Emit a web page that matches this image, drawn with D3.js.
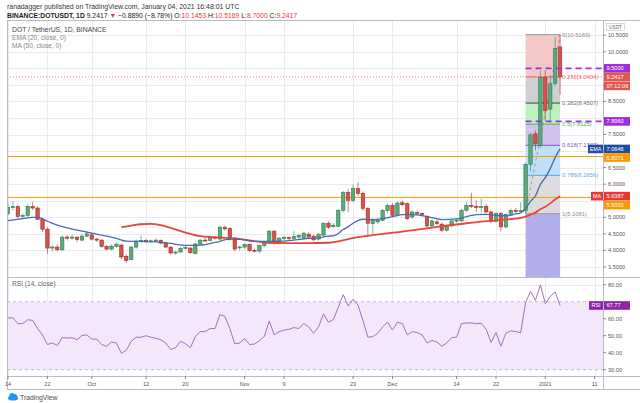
<!DOCTYPE html>
<html><head><meta charset="utf-8">
<script src="https://cdn.jsdelivr.net/npm/d3@7"></script>
<style>body{margin:0;background:#fff;} svg{display:block;font-family:"Liberation Sans",Arial,sans-serif;}</style>
</head><body><svg id="c" width="640" height="403"></svg>
<script>
// ---------- DATA ----------
const open = [5.11,5.30,5.32,5.03,5.06,5.33,5.28,4.94,4.64,4.07,4.10,4.02,4.40,4.37,4.40,4.31,4.43,4.47,4.34,4.31,
4.12,4.04,4.12,4.16,3.82,3.72,4.10,4.28,4.30,4.27,4.29,4.30,4.22,4.10,3.92,3.95,4.06,4.07,3.90,4.19,
4.31,4.30,4.39,4.34,4.70,4.66,4.37,4.08,4.10,4.18,4.00,3.98,4.15,4.22,4.58,4.22,4.37,4.39,4.36,4.40,
4.37,4.49,4.43,4.34,4.46,4.82,4.72,4.73,5.21,5.75,5.51,5.87,5.72,5.27,4.81,4.86,4.91,5.20,5.36,5.06,
5.44,5.41,5.01,5.14,5.12,5.03,4.74,4.86,4.79,4.61,4.74,4.89,4.89,5.21,5.36,5.33,5.30,5.33,5.16,4.88,
5.11,4.71,5.09,5.21,5.18,5.20,6.60,7.52,7.17,9.23,8.27,9.05,10.1453];
const high = [5.40,5.48,5.38,5.12,5.40,5.46,5.33,4.99,4.70,4.15,4.18,4.45,4.46,4.48,4.42,4.50,4.58,4.52,4.38,4.33,
4.16,4.18,4.24,4.20,3.88,4.13,4.33,4.45,4.35,4.33,4.36,4.33,4.25,4.12,3.99,4.10,4.13,4.10,4.22,4.35,
4.40,4.45,4.43,4.75,4.74,4.70,4.40,4.15,4.22,4.22,4.05,4.18,4.26,4.62,4.62,4.40,4.44,4.42,4.58,4.50,
4.55,4.55,4.47,4.52,4.86,4.88,4.82,5.25,5.80,5.85,5.99,6.05,5.78,5.32,4.98,4.98,5.25,5.42,5.42,5.48,
5.50,5.45,5.20,5.20,5.15,5.07,4.93,4.92,4.84,4.78,4.93,4.96,5.25,5.46,5.74,5.51,5.57,5.40,5.20,5.15,
5.16,5.12,5.26,5.28,5.45,6.65,7.55,7.62,9.43,9.45,9.30,10.45,10.5169];
const low = [5.05,5.20,4.98,4.98,5.00,5.22,4.92,4.55,3.90,3.98,3.96,3.98,4.30,4.32,4.25,4.28,4.40,4.30,4.26,4.08,
4.00,4.00,4.08,3.74,3.62,3.70,4.05,4.22,4.22,4.22,4.25,4.18,4.06,3.88,3.87,3.92,4.02,3.90,3.88,4.15,
4.26,4.27,4.33,4.32,4.60,4.30,3.98,4.00,4.05,3.96,3.93,3.92,4.10,4.20,4.18,4.18,4.32,4.30,4.32,4.36,
4.34,4.38,4.28,4.30,4.42,4.65,4.68,4.70,5.15,5.15,5.45,5.65,5.20,4.46,4.50,4.80,4.88,5.12,5.00,5.02,
5.33,4.92,4.95,5.06,5.02,4.68,4.70,4.77,4.56,4.57,4.70,4.84,4.86,5.17,5.28,5.16,5.12,5.12,4.82,4.84,
4.58,4.66,5.05,5.12,5.14,5.1081,6.40,7.02,7.10,7.92,7.85,8.95,8.70];
const close = [5.30,5.32,5.03,5.06,5.33,5.28,4.94,4.64,4.07,4.10,4.02,4.40,4.37,4.40,4.33,4.43,4.50,4.34,4.31,4.12,
4.04,4.13,4.19,3.80,3.70,4.10,4.28,4.30,4.27,4.29,4.31,4.22,4.10,3.92,3.95,4.06,4.09,3.93,4.19,4.31,
4.30,4.39,4.37,4.70,4.65,4.34,4.04,4.10,4.18,4.00,3.98,4.15,4.22,4.58,4.22,4.37,4.39,4.36,4.42,4.45,
4.52,4.40,4.32,4.49,4.82,4.70,4.76,5.21,5.75,5.51,5.87,5.72,5.27,4.82,4.90,4.91,5.21,5.36,5.06,5.43,
5.38,4.96,5.16,5.12,5.08,4.74,4.89,4.81,4.61,4.73,4.89,4.91,5.21,5.36,5.33,5.30,5.32,5.16,4.88,5.11,
4.71,5.09,5.21,5.18,5.21,6.60,7.49,7.22,9.23,8.22,9.03,10.10,9.2417];
const rsi = [60.5,60.5,57.1,57.1,59.4,59.0,54.2,50.5,44.8,45.7,
44.2,48.9,48.6,48.8,47.6,50.1,50.5,48.0,48.0,44.8,
43.8,46.3,45.7,39.6,41.5,46.7,49.1,49.1,50.0,49.1,
48.5,47.6,45.7,41.9,42.9,46.7,45.3,42.9,49.5,52.4,
52.4,54.2,54.2,62.4,61.3,54.2,45.3,45.7,48.3,44.8,
45.1,47.0,49.5,58.6,50.5,52.4,53.3,53.7,54.8,54.2,
57.1,55.2,51.4,55.2,62.8,58.0,59.4,66.6,74.2,67.5,
71.3,68.1,59.0,49.1,49.5,51.4,55.2,58.0,53.3,58.0,
57.1,50.5,52.4,51.8,50.5,45.7,47.2,46.3,43.8,45.7,
48.9,49.1,57.1,57.5,57.5,57.1,57.3,53.7,46.1,51.8,
43.8,51.4,52.9,52.4,51.8,69.4,76.1,70.8,79.9,68.9,
73.2,75.7,67.77];
const emaDays = [0,3,5,6,8,10,12,15,19,22,24,27,30,33,36,39,42,45,47,50,53,56,60,63,65,66,67,68,69,70,71,72,73,74,76,78,80,82,84,86,88,91,93,95,97,99,101,103,104,105,106,107,108,109,110,111,112];
const emaVals = [4.90,4.96,5.00,5.00,4.88,4.76,4.68,4.58,4.46,4.36,4.28,4.27,4.26,4.21,4.15,4.16,4.24,4.34,4.33,4.27,4.27,4.28,4.35,4.38,4.43,4.44,4.51,4.63,4.71,4.82,4.90,4.94,4.93,4.93,4.96,5.02,5.08,5.08,5.05,4.99,4.93,4.95,5.02,5.08,5.09,5.06,5.04,5.10,5.13,5.27,5.48,5.65,5.99,6.20,6.47,6.81,7.0646];
const maDays = [23,25,27,29,31,33,36,39,42,46,50,53,57,61,65,67,70,73,76,80,86,93,100,104,105,106,107,108,109,110,111,112];
const maVals = [4.70,4.75,4.79,4.80,4.76,4.68,4.54,4.43,4.40,4.36,4.28,4.23,4.22,4.22,4.23,4.27,4.37,4.44,4.50,4.57,4.69,4.82,4.92,4.98,5.02,5.08,5.14,5.24,5.32,5.42,5.54,5.6387];
const tickDates = ["2020-09-14","2020-09-22","2020-10-01","2020-10-12","2020-10-20","2020-11-01","2020-11-09","2020-11-23","2020-12-01","2020-12-14","2020-12-22","2021-01-01","2021-01-11"];
const tickLabels = ["14","22","Oct","12","20","Nov","9","23","Dec","14","22","2021","11"];
const priceTicks = [3.5,4.0,4.5,5.0,5.5,6.0,6.5,7.0,7.5,8.0,8.5,9.0,9.5,10.0,10.5];
const rsiTicks = [30,40,50,60,70,80];
const fibLevels = [0,0.236,0.382,0.5,0.618,0.786,1];
const fibHigh = 10.5169, fibLow = 5.1081;
const orangeLevels = [6.8371,5.6000];
const purpleLevels = [9.5000,7.8960];
const lastPrice = 9.2417, emaLast = 7.0646, maLast = 5.6387, rsiLast = 67.77;

// ---------- LAYOUT ----------
const svg = d3.select("#c");
const L=7, R=603, T=20, PB=277, RT=278, RB=376, AB=389;
const start = new Date(Date.UTC(2020,8,14));
const dates = d3.utcDay.range(start, new Date(Date.UTC(2021,0,5)));
const x = d3.scaleUtc().domain([start, new Date(Date.UTC(2021,0,11))]).range([8, 594.6]);
const y = d3.scaleLinear().domain([3.196,10.96]).range([PB,T]);
const yr = d3.scaleLinear().domain([30,80]).range([369.7,284.7]);
const parse = d3.utcParse("%Y-%m-%d");
const xd = i => x(dates[0]) + (x(dates[1])-x(dates[0]))*i;

svg.append("rect").attr("width",640).attr("height",403).attr("fill","#fff");
const defs = svg.append("defs");
defs.append("clipPath").attr("id","cp").append("rect").attr("x",L).attr("y",T).attr("width",R-L).attr("height",PB-T);
defs.append("clipPath").attr("id","cr").append("rect").attr("x",L).attr("y",RT).attr("width",R-L).attr("height",RB-RT);

// header
svg.append("text").attr("x",7).attr("y",9).attr("font-size",6.9).attr("fill","#333")
  .text("ranadagger published on TradingView.com, January 04, 2021 16:48:01 UTC");
const h2 = svg.append("text").attr("x",7).attr("y",17.5).attr("font-size",6.8).attr("fill","#222");
h2.append("tspan").attr("font-weight","bold").text("BINANCE:DOTUSDT, 1D ");
h2.append("tspan").text("9.2417 ");
h2.append("tspan").attr("fill","#e53935").text("▼");
h2.append("tspan").text(" −0.8890 (−8.78%) O:");
h2.append("tspan").attr("fill","#e53935").text("10.1453");
h2.append("tspan").text(" H:");
h2.append("tspan").attr("fill","#e53935").text("10.5169");
h2.append("tspan").text(" L:");
h2.append("tspan").attr("fill","#e53935").text("8.7000");
h2.append("tspan").text(" C:");
h2.append("tspan").attr("fill","#e53935").text("9.2417");

// grids
const grid = svg.append("g").attr("stroke","#e9ebf0").attr("stroke-width",1);
tickDates.forEach(d=>{ const xx=Math.round(x(parse(d)))+0.5;
  grid.append("line").attr("x1",xx).attr("x2",xx).attr("y1",T).attr("y2",RB); });
priceTicks.forEach(p=>{ const yy=Math.round(y(p))+0.5;
  grid.append("line").attr("x1",L).attr("x2",R).attr("y1",yy).attr("y2",yy); });
[40,50,60,80].forEach(r=>{ const yy=Math.round(yr(r))+0.5;
  grid.append("line").attr("x1",L).attr("x2",R).attr("y1",yy).attr("y2",yy); });

// RSI band
svg.append("rect").attr("x",L).attr("y",yr(70)).attr("width",R-L).attr("height",yr(30)-yr(70)).attr("fill","#f4e6fb");
[70,30].forEach(r=>svg.append("line").attr("x1",L).attr("x2",R).attr("y1",yr(r)).attr("y2",yr(r))
  .attr("stroke","#b9a4c6").attr("stroke-dasharray","3,3").attr("stroke-width",0.8));

// fib bands
const pane = svg.append("g").attr("clip-path","url(#cp)");
const fx1 = xd(105), fx2 = xd(112);
const fibP = l => fibHigh - l*(fibHigh-fibLow);
const bandColors = ["#f5c8c8","#cfd0d6","#bfeec0","#d3c2ee","#bfe0f6","#dcdcdf"];
for(let i=0;i<fibLevels.length-1;i++){
  pane.append("rect").attr("x",fx1).attr("width",fx2-fx1).attr("y",y(fibP(fibLevels[i])))
    .attr("height",y(fibP(fibLevels[i+1]))-y(fibP(fibLevels[i]))).attr("fill",bandColors[i]);
}
pane.append("rect").attr("x",fx1).attr("width",fx2-fx1).attr("y",y(fibLow)).attr("height",PB-y(fibLow)).attr("fill","#b1aeea");

// orange lines
orangeLevels.forEach(p=>pane.append("line").attr("x1",L).attr("x2",R).attr("y1",y(p)).attr("y2",y(p))
  .attr("stroke","#ff9800").attr("stroke-width",1));

// fib level lines + trend line
const fibLine = ["#9598a1","#ef6c6c","#2f5131","#4caf50","#7e57c2","#5aa9e6","#9598a1"];
const fibText = ["#8a8d96","#ef6c6c","#6b6e76","#4caf50","#7e57c2","#5aa9e6","#8a8d96"];
fibLevels.forEach((l,i)=>{
  pane.append("line").attr("x1",fx1).attr("x2",fx2).attr("y1",y(fibP(l))).attr("y2",y(fibP(l)))
    .attr("stroke",fibLine[i]).attr("stroke-width",1);
});
pane.append("line").attr("x1",fx1).attr("y1",y(fibLow)).attr("x2",fx2).attr("y2",y(fibHigh))
  .attr("stroke","#8a8d96").attr("stroke-dasharray","3,3").attr("stroke-width",0.8);

// candles
const cw = 3.4;
const cg = pane.append("g");
dates.forEach((d,i)=>{
  const up = close[i] >= open[i];
  const xx = xd(i);
  cg.append("line").attr("x1",xx).attr("x2",xx).attr("y1",y(high[i])).attr("y2",y(low[i]))
    .attr("stroke", up?"#3e8f63":"#b03a33").attr("stroke-width",0.8).attr("opacity",0.8);
  const yt = y(Math.max(open[i],close[i])), yb = y(Math.min(open[i],close[i]));
  cg.append("rect").attr("x",xx-cw/2).attr("width",cw).attr("y",yt).attr("height",Math.max(yb-yt,0.8))
    .attr("fill", up?"#59ab7c":"#d8514a").attr("stroke", up?"#2f7a4e":"#9b2f28").attr("stroke-width",0.6);
});

// MA & EMA
const line = d3.line().x(d=>xd(d[0])).y(d=>y(d[1])).curve(d3.curveMonotoneX);
pane.append("path").datum(maDays.map((d,i)=>[d,maVals[i]])).attr("d",line)
  .attr("fill","none").attr("stroke","#e8453c").attr("stroke-width",1.8);
pane.append("path").datum(emaDays.map((d,i)=>[d,emaVals[i]])).attr("d",line)
  .attr("fill","none").attr("stroke","#4a6aa8").attr("stroke-width",1.3);

// fib labels
fibLevels.forEach((l,i)=>{
  svg.append("text").attr("x",fx2+2).attr("y",y(fibP(l))).attr("dy","0.35em").attr("font-size",5.8)
    .attr("fill",fibText[i]).text(`${l}(${fibP(l).toFixed(4)})`);
});

// purple dashed lines
purpleLevels.forEach(p=>svg.append("line").attr("x1",xd(105)).attr("x2",R).attr("y1",y(p)).attr("y2",y(p))
  .attr("stroke","#a52ee0").attr("stroke-width",1.6).attr("stroke-dasharray","6,4"));
// last price dotted
svg.append("line").attr("x1",L).attr("x2",R).attr("y1",y(lastPrice)).attr("y2",y(lastPrice))
  .attr("stroke","#e0574f").attr("stroke-width",0.8).attr("stroke-dasharray","1,2");

// RSI line
svg.append("g").attr("clip-path","url(#cr)").append("path")
  .datum(rsi).attr("d", d3.line().x((d,i)=>xd(i)).y(d=>yr(d)))
  .attr("fill","none").attr("stroke","#9a62b3").attr("stroke-width",0.9);

// legends
svg.append("text").attr("x",12).attr("y",32).attr("font-size",6.8).attr("fill","#444").text("DOT / TetherUS, 1D, BINANCE");
svg.append("text").attr("x",12).attr("y",40).attr("font-size",6.6).attr("fill","#888").text("EMA (20, close, 0)");
svg.append("text").attr("x",12).attr("y",48).attr("font-size",6.6).attr("fill","#888").text("MA (50, close, 0)");
svg.append("text").attr("x",12).attr("y",286).attr("font-size",6.6).attr("fill","#666").text("RSI (14, close)");

// frame
const fr = svg.append("g").attr("stroke","#b8bcc6").attr("stroke-width",1).attr("fill","none");
fr.append("line").attr("x1",L+0.5).attr("x2",L+0.5).attr("y1",T).attr("y2",AB);
fr.append("line").attr("x1",L).attr("x2",640).attr("y1",T+0.5).attr("y2",T+0.5);
fr.append("line").attr("x1",R+0.5).attr("x2",R+0.5).attr("y1",T).attr("y2",AB);
fr.append("line").attr("x1",L).attr("x2",640).attr("y1",PB+0.5).attr("y2",PB+0.5);
fr.append("line").attr("x1",L).attr("x2",640).attr("y1",RB+0.5).attr("y2",RB+0.5);
fr.append("line").attr("x1",L).attr("x2",640).attr("y1",AB+0.5).attr("y2",AB+0.5);

// value boxes positions (used to hide colliding tick labels)
const boxes = [
  {y:y(purpleLevels[0]), t:d3.format(".4f")(purpleLevels[0]), c:"#9d2ee0"},
  {y:y(lastPrice), t:d3.format(".4f")(lastPrice), c:"#e0574f"},
  {y:y(lastPrice)+9, t:"07:12:06", c:"#e0574f"},
  {y:y(purpleLevels[1]), t:d3.format(".4f")(purpleLevels[1]), c:"#9d2ee0"},
  {y:y(emaLast), t:d3.format(".4f")(emaLast), c:"#1f4f9e", tag:"EMA", w:15},
  {y:y(emaLast)+8.6, t:d3.format(".4f")(orangeLevels[0]), c:"#ff9800"},
  {y:y(maLast), t:d3.format(".4f")(maLast), c:"#e53935", tag:"MA", w:12},
  {y:y(maLast)+9, t:d3.format(".4f")(orangeLevels[1]), c:"#ff9800"},
  {y:yr(rsiLast), t:d3.format(".2f")(rsiLast), c:"#8e24aa", tag:"RSI", w:14}
];
const free = yy => boxes.every(b=>Math.abs(b.y-yy)>7.5);

// price axis
const ax = svg.append("g").attr("font-size",5.6).attr("fill","#555");
priceTicks.forEach(p=>{
  ax.append("line").attr("x1",R).attr("x2",R+3).attr("y1",y(p)).attr("y2",y(p)).attr("stroke","#888");
  if(free(y(p)) && y(p)>33) ax.append("text").attr("x",R+5).attr("y",y(p)).attr("dy","0.35em").text(d3.format(".4f")(p));
});
rsiTicks.forEach(r=>{
  ax.append("line").attr("x1",R).attr("x2",R+3).attr("y1",yr(r)).attr("y2",yr(r)).attr("stroke","#888");
  if(free(yr(r))) ax.append("text").attr("x",R+5).attr("y",yr(r)).attr("dy","0.35em").text(d3.format(".2f")(r));
});
// time axis
tickDates.forEach((d,i)=>{
  const xx = x(parse(d));
  ax.append("line").attr("x1",xx).attr("x2",xx).attr("y1",RB).attr("y2",RB+3).attr("stroke","#888");
  ax.append("text").attr("x",xx).attr("y",384).attr("dy","0.35em").attr("text-anchor","middle").text(tickLabels[i]);
});

// USDT tag
svg.append("rect").attr("x",606.5).attr("y",23.5).attr("width",18).attr("height",7).attr("fill","#fff").attr("stroke","#bbb").attr("stroke-width",0.6);
svg.append("text").attr("x",615.5).attr("y",27).attr("dy","0.35em").attr("text-anchor","middle").attr("font-size",4.8).attr("fill","#666").text("USDT");

// value boxes
boxes.forEach(b=>{
  svg.append("rect").attr("x",R+1).attr("y",b.y-4.3).attr("width",26).attr("height",8.6).attr("fill",b.c);
  svg.append("text").attr("x",R+3.5).attr("y",b.y).attr("dy","0.35em").attr("font-size",5.6).attr("fill","#fff").text(b.t);
  if(b.tag){
    svg.append("rect").attr("x",R-b.w).attr("y",b.y-4.3).attr("width",b.w).attr("height",8.6).attr("fill",b.c);
    svg.append("text").attr("x",R-b.w/2).attr("y",b.y).attr("dy","0.35em").attr("text-anchor","middle").attr("font-size",5.4).attr("fill","#fff").text(b.tag);
  }
});

// logo
const lg = svg.append("g").attr("fill","#2196f3");
lg.append("ellipse").attr("cx",13).attr("cy",398).attr("rx",5).attr("ry",2.6);
lg.append("circle").attr("cx",12).attr("cy",395.6).attr("r",2.6);
lg.append("circle").attr("cx",15).attr("cy",396.2).attr("r",2.2);
svg.append("text").attr("x",20).attr("y",399.5).attr("font-size",6.8).attr("fill","#4a4a4a").text("TradingView");
</script></body></html>
